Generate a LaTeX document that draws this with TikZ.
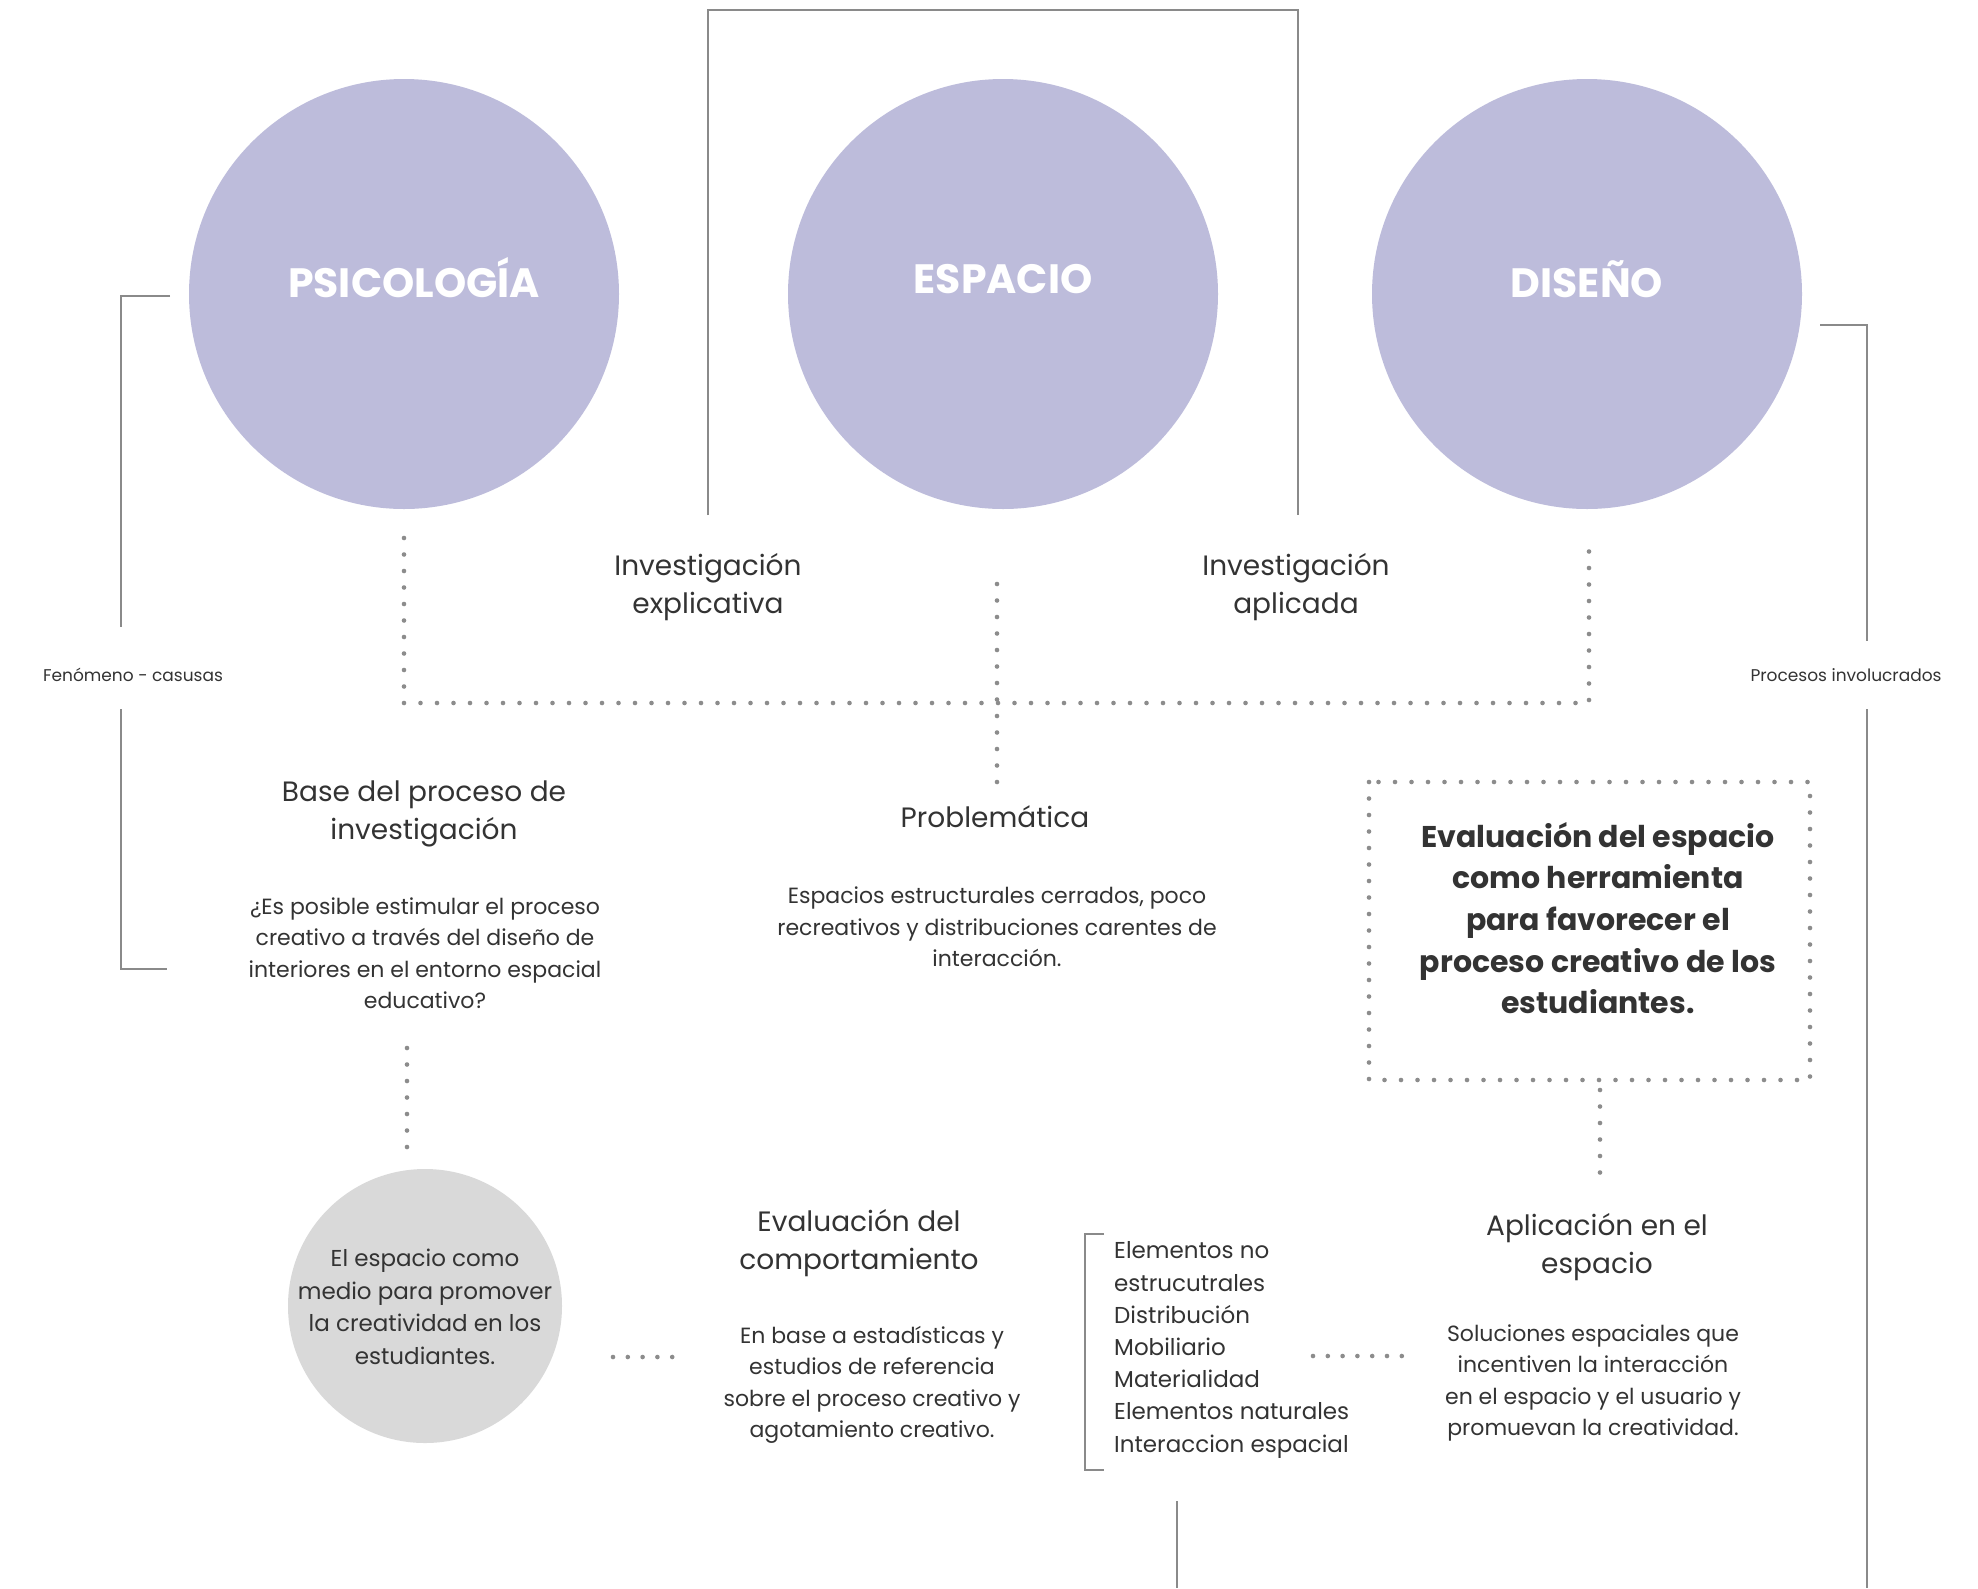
\documentclass[tikz,border=0pt]{standalone}
\usepackage{fontspec}
\setmainfont{Poppins}
\definecolor{lav}{HTML}{BDBCDB}
\definecolor{grayc}{HTML}{D9D9D9}
\definecolor{textc}{HTML}{333333}
\definecolor{linec}{HTML}{8A8A8A}
\definecolor{dotc}{HTML}{8C8C8C}
\begin{document}
\begin{tikzpicture}[x=1pt,y=-1pt,
  bigc/.style={circle, fill=lav, minimum size=430pt, inner sep=0pt},
  ctitle/.style={text=white, font=\fontsize{41}{46}\selectfont\bfseries, inner sep=0pt},
  head/.style={text=textc, align=center, font=\fontsize{28}{38}\selectfont, inner sep=0pt},
  body/.style={text=textc, align=center, font=\fontsize{22}{31.5}\selectfont, inner sep=0pt},
  lst/.style={text=textc, align=left, font=\fontsize{23}{32.2}\selectfont, inner sep=0pt},
  boldt/.style={text=textc, align=center, font=\fontsize{30}{41.7}\selectfont\bfseries, inner sep=0pt},
  small/.style={text=textc, font=\fontsize{17}{20}\selectfont, inner sep=0pt},
  solidl/.style={draw=linec, line width=1.8pt},
  dotl/.style={draw=dotc, line width=4.6pt, line cap=round, dash pattern=on 0pt off 16.5pt},
  dotshort/.style={draw=dotc, line width=4.6pt, line cap=round, dash pattern=on 0pt off 14.8pt},
]
\useasboundingbox[fill=white] (0,0) rectangle (1978,1588);

% big circles
\node[bigc] (psi) at (404,294) {};
\node[bigc] (esp) at (1003,294) {};
\node[bigc] (dis) at (1587,294) {};
\node[ctitle] (psit) at (414,278) {PSICOLOGÍA};
\node[ctitle] (espt) at (1003,279) {ESPACIO};
\node[ctitle] (dist) at (1587,279) {DISEÑO};

% top bracket
\coordinate (tb1) at (708,515);
\coordinate (tb2) at (708,10);
\coordinate (tb3) at (1298,10);
\coordinate (tb4) at (1298,515);
\draw[solidl] (tb1) -- (tb2) -- (tb3) -- (tb4);

% labels Investigacion
\node[head] (inv1) at (708,587) {Investigación\\explicativa};
\node[head] (inv2) at (1296,587) {Investigación\\aplicada};

% left bracket
\node[small] (fen) at (133,675) {Fenómeno - casusas};
\coordinate (lb1) at (170,296);
\coordinate (lb2) at (121,296);
\coordinate (lb3) at (121,627);
\coordinate (lb4) at (121,709);
\coordinate (lb5) at (121,969);
\coordinate (lb6) at (167,969);
\draw[solidl] (lb1) -- (lb2) -- (lb3);
\draw[solidl] (lb4) -- (lb5) -- (lb6);

% right bracket
\node[small] (pro) at (1846,675) {Procesos involucrados};
\coordinate (rb1) at (1820,325);
\coordinate (rb2) at (1867,325);
\coordinate (rb3) at (1867,641);
\coordinate (rb4) at (1867,709);
\coordinate (rb5) at (1867,1588);
\draw[solidl] (rb1) -- (rb2) -- (rb3);
\draw[solidl] (rb4) -- (rb5);

% dotted tree
\coordinate (d1) at (404,538);
\coordinate (d2) at (404,703);
\coordinate (d3) at (1589,703);
\coordinate (d4) at (1589,538);
\coordinate (d5) at (997,584);
\coordinate (d6) at (997,788);
\draw[dotl] (d1) -- (d2) -- (d3) -- (d4);
\draw[dotl] (d5) -- (d6);

% base del proceso
\node[head] (baset) at (424,814) {Base del proceso de\\investigación};
\node[body] (baseb) at (425,953) {¿Es posible estimular el proceso\\creativo a través del diseño de\\interiores en el entorno espacial\\educativo?};

% problematica
\node[head] (probt) at (995,817) {Problemática};
\node[body] (probb) at (997,927) {Espacios estructurales cerrados, poco\\recreativos y distribuciones carentes de\\interacción.};

% dotted box
\coordinate (bx1) at (1369,782);
\coordinate (bx2) at (1810,1080);
\draw[dotl] (bx1) rectangle (bx2);
\node[boldt] (boxt) at (1598,918) {Evaluación del espacio\\como herramienta\\para favorecer el\\proceso creativo de los\\estudiantes.};

% dotted down from box
\coordinate (e1) at (1600,1090);
\coordinate (e2) at (1600,1186);
\draw[dotl] (e1) -- (e2);

% dotted down from base
\coordinate (f1) at (407,1048);
\coordinate (f2) at (407,1154);
\draw[dotl] (f1) -- (f2);

% gray circle
\node[circle, fill=grayc, minimum size=274pt, inner sep=0pt] (gc) at (425,1306) {};
\node[body, font=\fontsize{23}{32.5}\selectfont] (gct) at (425,1307) {El espacio como\\medio para promover\\la creatividad en los\\estudiantes.};

% dotted between gray circle and evaluacion
\coordinate (g1) at (613,1357);
\coordinate (g2) at (673,1357);
\draw[dotshort] (g1) -- (g2);

% evaluacion del comportamiento
\node[head] (evt) at (859,1243) {Evaluación del\\comportamiento};
\node[body] (evb) at (872,1385) {En base a estadísticas y\\estudios de referencia\\sobre el proceso creativo y\\agotamiento creativo.};

% list bracket
\coordinate (k1) at (1104,1234);
\coordinate (k2) at (1085,1234);
\coordinate (k3) at (1085,1470);
\coordinate (k4) at (1104,1470);
\draw[solidl] (k1) -- (k2) -- (k3) -- (k4);
\node[lst, anchor=west] (lst) at (1114,1350) {Elementos no\\estrucutrales\\Distribución\\Mobiliario\\Materialidad\\Elementos naturales\\Interaccion espacial};

% dotted list to aplicacion
\coordinate (h1) at (1313,1356);
\coordinate (h2) at (1403,1356);
\draw[dotshort] (h1) -- (h2);

% aplicacion
\node[head] (apt) at (1597,1247) {Aplicación en el\\espacio};
\node[body] (apb) at (1593,1383) {Soluciones espaciales que\\incentiven la interacción\\en el espacio y el usuario y\\promuevan la creatividad.};

% bottom line
\coordinate (m1) at (1177,1501);
\coordinate (m2) at (1177,1588);
\draw[solidl] (m1) -- (m2);
\end{tikzpicture}
\end{document}
